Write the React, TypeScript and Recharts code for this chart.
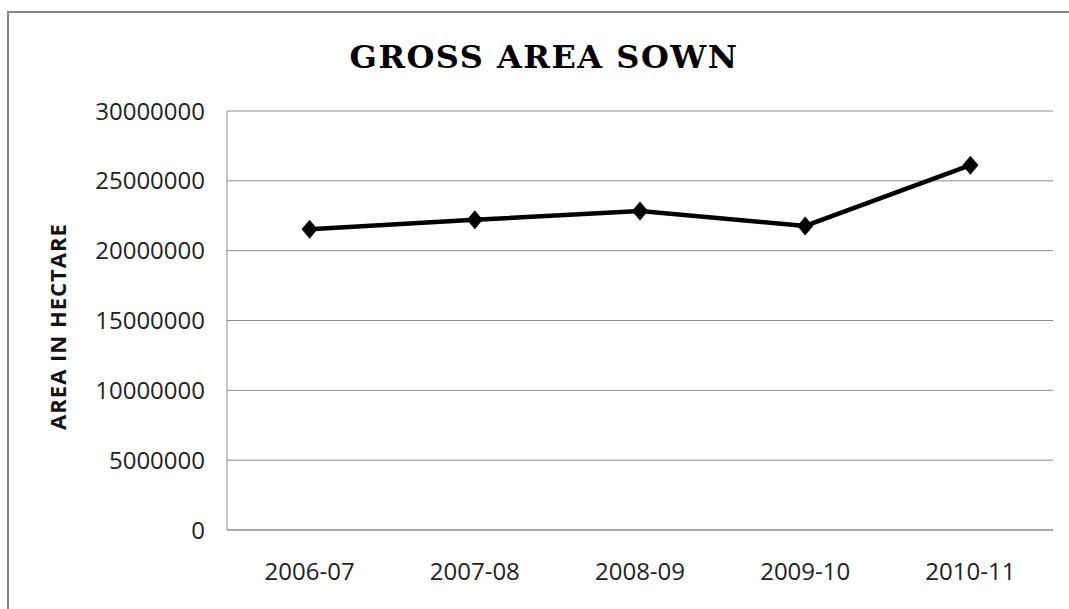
import { LineChart, Line, XAxis, YAxis, CartesianGrid } from 'recharts'

const years = ['2006-07', '2007-08', '2008-09', '2009-10', '2010-11']
const grossAreaSown = [21530000, 22210000, 22840000, 21770000, 26120000]
const yTicks = [0, 5000000, 10000000, 15000000, 20000000, 25000000, 30000000]

const chartData = years.map((y, i) => ({ year: y, area: grossAreaSown[i] }))

const tickFont = { fontFamily: 'Open Sans', fontSize: 24, fill: '#222' }

function Diamond(props: any) {
  const { cx, cy } = props
  if (cx == null || cy == null) return null
  return <path d={`M${cx},${cy - 9.5} L${cx + 8},${cy} L${cx},${cy + 9.5} L${cx - 8},${cy} Z`} fill="#000" />
}

function YLabel(props: any) {
  const vb = props.viewBox
  const y = vb.y + vb.height / 2 + 6
  return (
    <text x={57} y={y} transform={`rotate(-90, 57, ${y})`} textAnchor="middle" dominantBaseline="central"
      style={{ fontFamily: 'Open Sans', fontSize: 22, fontWeight: 700, fill: '#111', letterSpacing: 1 }}>
      AREA IN HECTARE
    </text>
  )
}

export default function App() {
  return (
    <div style={{ position: 'fixed', left: 0, top: 0, width: 1069, height: 609, overflow: 'hidden', background: '#fff' }}>
      <div style={{ position: 'absolute', left: 7, top: 11, width: 1200, height: 800, border: '2px solid #858585' }} />
      <div style={{
        position: 'absolute', left: 0, width: 1088, top: 34, textAlign: 'center',
        fontFamily: 'DejaVu Serif', fontWeight: 700, fontSize: 32, color: '#000', lineHeight: '46px', letterSpacing: 1.5
      }}>
        GROSS AREA SOWN
      </div>
      <div style={{ position: 'absolute', left: 0, top: 0 }}>
        <LineChart width={1069} height={609} data={chartData} margin={{ top: 111, right: 16, bottom: 49, left: 0 }}>
          <CartesianGrid vertical={false} stroke="#8c8c8c" strokeWidth={1} />
          <XAxis dataKey="year" padding={{ left: 82.6, right: 82.6 }} tickLine={false} tickSize={0} tickMargin={33}
            axisLine={{ stroke: '#8c8c8c' }} tick={tickFont} interval={0} />
          <YAxis width={227} domain={[0, 30000000]} ticks={yTicks} tickLine={false} tickSize={0} tickMargin={22}
            axisLine={{ stroke: '#8c8c8c' }} tick={tickFont} label={<YLabel />} />
          <Line type="linear" dataKey="area" stroke="#000" strokeWidth={4.5} dot={<Diamond />} activeDot={false}
            isAnimationActive={false} />
        </LineChart>
      </div>
    </div>
  )
}
